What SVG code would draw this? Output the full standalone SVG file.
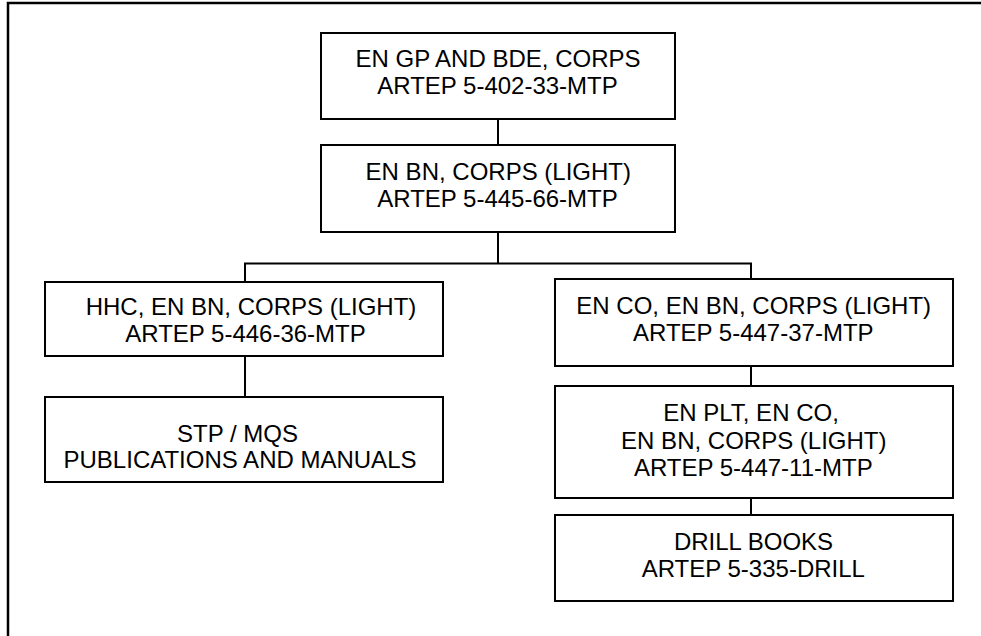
<svg xmlns="http://www.w3.org/2000/svg" width="981" height="636" viewBox="0 0 981 636">
<style>
.box{fill:#fff;stroke:#000;stroke-width:2}
.frame{fill:none;stroke:#000;stroke-width:2.5}
.conn{fill:none;stroke:#000;stroke-width:2}
text{font-family:"Liberation Sans",Arial,sans-serif;font-size:24px;fill:#000;text-anchor:middle}
</style>
<rect width="981" height="636" fill="#fff"/>
<rect class="frame" x="8" y="3" width="990" height="660"/>
<g id="connectors">
<line class="conn" x1="498" y1="119" x2="498" y2="145"/>
<line class="conn" x1="498" y1="232" x2="498" y2="263.5"/>
<polyline class="conn" points="245,282 245,263.5 751,263.5 751,279"/>
<line class="conn" x1="245" y1="356" x2="245" y2="397"/>
<line class="conn" x1="751" y1="366" x2="751" y2="386"/>
<line class="conn" x1="751" y1="498" x2="751" y2="515"/>
</g>
<g id="n1">
<rect class="box" x="321" y="33" width="354" height="86"/>
<text x="498" y="67">EN GP AND BDE, CORPS</text>
<text x="497.5" y="94">ARTEP 5-402-33-MTP</text>
</g>
<g id="n2">
<rect class="box" x="321" y="145" width="354" height="87"/>
<text x="498.3" y="180">EN BN, CORPS (LIGHT)</text>
<text x="497.5" y="207">ARTEP 5-445-66-MTP</text>
</g>
<g id="n3">
<rect class="box" x="45" y="282" width="398" height="74"/>
<text x="251" y="315">HHC, EN BN, CORPS (LIGHT)</text>
<text x="245.5" y="342">ARTEP 5-446-36-MTP</text>
</g>
<g id="n4">
<rect class="box" x="45" y="397" width="398" height="85"/>
<text x="237.5" y="442">STP / MQS</text>
<text x="240" y="468">PUBLICATIONS AND MANUALS</text>
</g>
<g id="n5">
<rect class="box" x="555" y="279" width="398" height="87"/>
<text x="753.7" y="314">EN CO, EN BN, CORPS (LIGHT)</text>
<text x="753.3" y="341">ARTEP 5-447-37-MTP</text>
</g>
<g id="n6">
<rect class="box" x="555" y="386" width="398" height="112"/>
<text x="751" y="421">EN PLT, EN CO,</text>
<text x="753.8" y="449">EN BN, CORPS (LIGHT)</text>
<text x="753.3" y="476">ARTEP 5-447-11-MTP</text>
</g>
<g id="n7">
<rect class="box" x="555" y="515" width="398" height="86"/>
<text x="753.5" y="550">DRILL BOOKS</text>
<text x="753.3" y="577">ARTEP 5-335-DRILL</text>
</g>
</svg>
